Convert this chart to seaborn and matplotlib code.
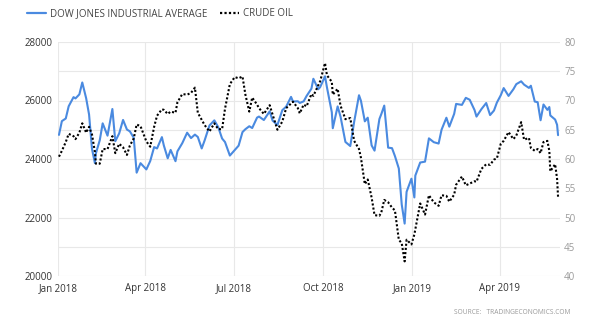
import matplotlib
matplotlib.use("Agg")
import matplotlib.pyplot as plt
from matplotlib.lines import Line2D
import pandas as pd
import seaborn as sns

dates = [
    "2018-01-02", "2018-01-05", "2018-01-09", "2018-01-12", "2018-01-17", "2018-01-19",
    "2018-01-23", "2018-01-26", "2018-01-30", "2018-02-02", "2018-02-05", "2018-02-08",
    "2018-02-09", "2018-02-13", "2018-02-16", "2018-02-21", "2018-02-26", "2018-03-01",
    "2018-03-05", "2018-03-09", "2018-03-13", "2018-03-16", "2018-03-20", "2018-03-23",
    "2018-03-27", "2018-04-02", "2018-04-06", "2018-04-10", "2018-04-13", "2018-04-18",
    "2018-04-20", "2018-04-24", "2018-04-27", "2018-05-02", "2018-05-04", "2018-05-09",
    "2018-05-14", "2018-05-18", "2018-05-22", "2018-05-25", "2018-05-29", "2018-06-01",
    "2018-06-06", "2018-06-11", "2018-06-15", "2018-06-19", "2018-06-22", "2018-06-27",
    "2018-07-02", "2018-07-06", "2018-07-10", "2018-07-13", "2018-07-17", "2018-07-20",
    "2018-07-25", "2018-07-27", "2018-08-01", "2018-08-07", "2018-08-10", "2018-08-15",
    "2018-08-20", "2018-08-24", "2018-08-29", "2018-08-31", "2018-09-05", "2018-09-07",
    "2018-09-11", "2018-09-14", "2018-09-19", "2018-09-21", "2018-09-26", "2018-09-28",
    "2018-10-03", "2018-10-05", "2018-10-10", "2018-10-11", "2018-10-16", "2018-10-19",
    "2018-10-24", "2018-10-29", "2018-11-02", "2018-11-07", "2018-11-09", "2018-11-13",
    "2018-11-16", "2018-11-20", "2018-11-23", "2018-11-28", "2018-11-30", "2018-12-03",
    "2018-12-07", "2018-12-11", "2018-12-14", "2018-12-18", "2018-12-21", "2018-12-24",
    "2018-12-26", "2018-12-31", "2019-01-03", "2019-01-04", "2019-01-09", "2019-01-14",
    "2019-01-18", "2019-01-23", "2019-01-28", "2019-01-31", "2019-02-05", "2019-02-08",
    "2019-02-13", "2019-02-15", "2019-02-21", "2019-02-25", "2019-03-01", "2019-03-06",
    "2019-03-08", "2019-03-13", "2019-03-18", "2019-03-22", "2019-03-26", "2019-03-29",
    "2019-04-02", "2019-04-05", "2019-04-10", "2019-04-15", "2019-04-18", "2019-04-23",
    "2019-04-26", "2019-05-01", "2019-05-03", "2019-05-07", "2019-05-10", "2019-05-13",
    "2019-05-16", "2019-05-20", "2019-05-22", "2019-05-23", "2019-05-28", "2019-05-30",
    "2019-05-31",
]

dow = [
    24824, 25295, 25385, 25803, 26115, 26071,
    26210, 26616, 26076, 25520, 24345, 23860,
    24190, 24640, 25219, 24798, 25709, 24608,
    24874, 25335, 25007, 24946, 24727, 23533,
    23857, 23644, 23932, 24408, 24360, 24748,
    24463, 24024, 24311, 23925, 24262, 24542,
    24899, 24715, 24834, 24753, 24361, 24635,
    25146, 25322, 25090, 24700, 24580, 24117,
    24307, 24456, 24920, 25019, 25120, 25058,
    25415, 25451, 25333, 25629, 25313, 25162,
    25669, 25790, 26124, 25965, 25974, 25916,
    25971, 26154, 26405, 26743, 26385, 26458,
    26828, 26447, 25598, 25052, 25798, 25444,
    24583, 24443, 25270, 26180, 25989, 25287,
    25413, 24465, 24286, 25366, 25538, 25826,
    24389, 24370, 24100, 23675, 22445, 21792,
    22878, 23327, 22686, 23433, 23879, 23910,
    24706, 24575, 24528, 24999, 25411, 25106,
    25543, 25883, 25850, 26091, 26026, 25673,
    25450, 25702, 25914, 25502, 25657, 25929,
    26180, 26425, 26157, 26385, 26559, 26656,
    26543, 26431, 26505, 25965, 25942, 25324,
    25863, 25680, 25777, 25490, 25348, 25169,
    24815,
]

crude_oil = [
    60.4, 61.4, 62.9, 64.3, 63.9, 63.4,
    64.5, 66.1, 64.5, 65.5, 64.2, 61.2,
    59.2, 59.2, 61.7, 61.7, 63.9, 61.0,
    62.6, 62.0, 60.7, 62.3, 63.5, 65.9,
    65.6, 63.0, 62.1, 65.5, 67.4, 68.5,
    68.4, 67.7, 68.1, 67.9, 69.7, 71.1,
    71.0, 71.3, 72.2, 67.9, 66.7, 65.8,
    64.7, 66.1, 65.1, 65.1, 68.6, 72.8,
    74.0, 73.8, 74.1, 71.0, 68.1, 70.5,
    69.3, 68.7, 67.7, 69.2, 67.6, 65.0,
    66.4, 68.7, 69.5, 69.8, 68.7, 67.8,
    69.3, 69.0, 71.1, 70.8, 72.6, 73.3,
    76.4, 74.3, 73.2, 71.0, 72.0, 69.1,
    66.8, 67.0, 63.1, 61.7, 60.2, 55.7,
    56.5, 53.4, 50.4, 50.3, 50.9, 53.0,
    52.6, 51.7, 51.2, 46.2, 45.6, 42.5,
    46.2, 45.4, 47.1, 48.0, 52.4, 50.5,
    53.8, 52.6, 52.0, 53.8, 53.7, 52.7,
    53.9, 55.6, 57.0, 55.5, 55.8, 56.2,
    56.1, 58.3, 59.1, 59.0, 59.9, 60.1,
    62.6, 63.1, 64.6, 63.4, 64.0, 66.3,
    63.3, 63.6, 61.9, 61.4, 61.7, 61.0,
    62.9, 63.1, 61.4, 57.9, 59.1, 56.6,
    53.5,
]

left_ticks = [20000, 22000, 24000, 26000, 28000]
right_ticks = [40, 45, 50, 55, 60, 65, 70, 75, 80]
x_ticks = ["2018-01-01", "2018-04-01", "2018-07-01", "2018-10-01", "2019-01-01", "2019-04-01"]
x_labels = ["Jan 2018", "Apr 2018", "Jul 2018", "Oct 2018", "Jan 2019", "Apr 2019"]
series_names = ["DOW JONES INDUSTRIAL AVERAGE", "CRUDE OIL"]
source_text = "SOURCE:   TRADINGECONOMICS.COM"

df = pd.DataFrame({"date": pd.to_datetime(dates), "dow": dow, "oil": crude_oil})

sns.set_style("white")
plt.rcParams["font.family"] = ["Open Sans", "DejaVu Sans"]

BLUE = "#4a8ae0"
DOTS = (0, (1, 1))
fig = plt.figure(figsize=(6.02, 3.22), dpi=100)
ax = fig.add_axes([58 / 602, 1 - 276 / 322, (560 - 58) / 602, (276 - 42) / 322])
ax2 = ax.twinx()

sns.lineplot(data=df, x="date", y="dow", ax=ax, color=BLUE, linewidth=1.5)
sns.lineplot(data=df, x="date", y="oil", ax=ax2, color="black", linewidth=1.5,
             linestyle=DOTS)

ax.set_xlim(pd.Timestamp("2018-01-01"), pd.Timestamp("2019-06-02"))
ax.set_ylim(20000, 28000)
ax2.set_ylim(40, 80)

grid_vals = list(range(20000, 28001, 1000))
ax.set_yticks(grid_vals)
ax.set_yticklabels([str(v) if v in left_ticks else "" for v in grid_vals])
ax2.set_yticks(right_ticks)
ax2.set_yticklabels([str(v) for v in right_ticks])
ax.set_xticks(pd.to_datetime(x_ticks))
ax.set_xticklabels(x_labels)

ax.grid(True, color="#e8e8e8", linewidth=0.8)
ax2.grid(False)
for a in (ax, ax2):
    for s in a.spines.values():
        s.set_visible(False)
    a.set_xlabel("")
    a.set_ylabel("")
ax.tick_params(axis="both", length=0, labelsize=7, colors="#333333")
ax.tick_params(axis="y", pad=4)
ax.tick_params(axis="x", pad=5)
ax2.tick_params(axis="y", length=0, labelsize=7, colors="#9a9a9a", pad=3)

handles = [Line2D([], [], color=BLUE, linewidth=1.6),
           Line2D([], [], color="black", linewidth=1.6, linestyle=DOTS)]
fig.legend(handles, series_names, loc="center left", bbox_to_anchor=(27 / 602, 0.957),
           ncol=2, frameon=False, fontsize=7.05, handlelength=1.9, handletextpad=0.45,
           columnspacing=1.3, borderpad=0, borderaxespad=0, labelcolor="#444444")

fig.text(0.947, 1 - 313 / 322, source_text, ha="right", va="center",
         fontsize=4.8, color="#9a9a9a")

fig.savefig("out.png", dpi=100, facecolor="white")
